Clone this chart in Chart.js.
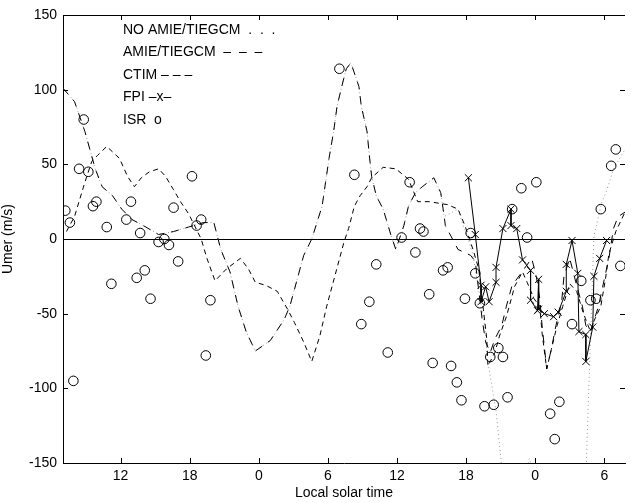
<!DOCTYPE html>
<html>
<head>
<meta charset="utf-8">
<script src="https://cdn.jsdelivr.net/npm/chart.js@4/dist/chart.umd.min.js"></script>
<style>
  html, body { margin: 0; padding: 0; background: #fff; }
  #wrap { width: 631px; height: 503px; }
</style>
</head>
<body>
<div id="wrap"><canvas id="c" width="631" height="503"></canvas></div>
<script>
// ---- data (hours are continuous local solar time; 24 = 0h of next day) ----
const xTickHours = [12, 18, 24, 30, 36, 42, 48, 54];
const yTicks = [-150, -100, -50, 0, 50, 100, 150];

const isrHours = [7.2,7.6,7.9,8.4,8.8,9.2,9.6,9.9,10.8,11.2,12.5,12.9,13.4,13.7,14.1,14.6,15.3,15.8,16.2,16.6,17.0,18.2,18.6,19.0,19.4,19.8,31.0,32.3,32.9,33.6,34.2,35.2,36.4,37.1,37.6,38.0,38.3,38.8,39.1,40.0,40.4,40.7,41.2,41.6,41.9,42.4,42.8,43.2,43.6,44.1,44.4,44.8,45.2,45.6,46.0,46.8,47.3,48.1,49.3,49.7,50.1,51.2,52.0,52.8,53.3,53.7,54.6,55.0,55.4];
const isrValues = [19,11,-95,47,80,45,22,25,8,-30,13,25,-26,4,-21,-40,-2,0,-4,21,-15,42,9,13,-78,-41,114,43,-57,-42,-17,-76,1,38,-9,7,5,-37,-83,-21,-19,-85,-96,-108,-40,4,-23,-43,-112,-79,-111,-73,-79,-106,20,34,1,38,-117,-134,-109,-57,-28,-41,-40,20,49,60,-18];

const fpiHours = [42.2,42.8,43.3,43.3,43.7,44.0,44.6,44.6,45.2,45.9,45.9,46.4,46.9,47.6,47.6,48.2,48.3,48.3,48.8,49.6,50.0,50.7,50.7,51.2,51.7,51.8,52.4,52.4,53.0,53.1,53.6,54.2];
const fpiValues = [41,3,-31,-42,-32,-42,-29,-19,7,20,9,7,-14,-21,-41,-48,-27,-47,-50,-52,-49,-35,-17,-1,-23,-62,-64,-82,-59,-25,-13,-1];

const ctimHours = [7.3,8.0,8.9,9.5,10.0,10.8,11.9,12.6,13.2,13.8,14.5,15.3,15.9,16.6,17.2,17.9,19.0,19.5,20.2,21.2,22.4,23.1,23.7,24.6,25.6,26.5,27.1,27.9,28.6,29.3,29.9,30.6,31.4,31.8,32.3,32.8,33.4,33.8,34.8,35.9,37.0,37.8,38.8,40.4,41.3,41.9,42.6,43.1,43.5,43.8,43.9,44.5,44.9,45.5,46.0,46.2,46.9,47.3,47.9,48.4,48.6,49.0,49.4,49.9,50.4,51.0,51.6,52.2,52.8,53.1,53.7,54.1,54.4,55.0,55.8];
const ctimValues = [5,15,38,52,56,62,54,42,35,41,45,47,42,33,25,17,0,-13,-28,-20,-13,-20,-29,-31,-35,-47,-56,-69,-82,-65,-45,-25,-2,7,22,29,35,41,48,47,40,25,25,23,20,9,-7,-20,-47,-67,-85,-76,-65,-52,-38,-32,-22,-29,-40,-45,-63,-87,-74,-58,-45,-30,-35,-50,-62,-55,-45,-27,-10,5,18];

const amieHours = [7.0,8.0,8.9,9.8,10.4,11.3,12.1,13.0,14.2,15.3,16.6,17.9,19.2,20.1,20.7,21.5,22.2,22.9,23.7,25.0,26.2,26.7,27.9,28.6,29.5,29.8,30.1,30.5,30.8,31.2,31.6,32.0,32.7,32.9,33.4,33.6,33.8,34.2,34.8,35.5,35.9,36.6,37.0,37.6,38.2,39.2,39.8,40.1,40.2,41.3,42.4,42.8,43.4,43.7,44.1,44.5,45.1,45.5,46.0,46.2,47.7,48.1,48.4,48.6,49.0,49.4,49.8,50.3,50.5,51.0,51.6,52.1,52.4,52.8,53.5,54.0,54.4,54.8,55.2,55.8];
const amieValues = [101,92,72,47,35,29,20,13,8,3,5,8,11,11,-7,-22,-45,-62,-75,-68,-54,-45,-11,0,22,38,54,72,89,102,114,118,102,89,72,56,42,29,20,2,-7,9,22,31,35,41,31,15,9,-7,-11,-15,-54,-69,-76,-67,-58,-45,-31,-29,-13,-25,-40,-58,-87,-74,-58,-42,-25,-13,-31,-45,-58,-62,-45,-27,-13,7,15,18];

const noAmieHours = [7.0,8.0,8.9,9.8,10.4,11.3,12.1,13.0,14.2,15.3,16.6,17.9,19.2,20.1,20.7,21.5,22.2,22.9,23.7,25.0,26.2,26.7,27.9,28.6,29.5,29.8,30.1,30.5,30.8,31.2,31.6,32.0,32.7,32.9,33.4,33.6,33.8,34.2,34.8,35.5,35.9,36.6,37.0,37.6,38.2,39.2,39.8,40.1,41.3,41.7,42.2,42.6,43.7,43.8,44.6,45.2,47.0,47.5,48.0,52.4,53.1,53.8,54.2,54.8,55.8];
const noAmieValues = [101,92,72,47,35,29,20,13,8,3,5,8,11,11,-7,-22,-45,-62,-75,-68,-54,-45,-11,0,22,38,54,72,89,102,114,118,102,89,72,56,42,29,20,2,-7,9,22,31,35,41,31,15,20,10,0,-11,-62,-78,-115,-160,-160,-147,-160,-160,2,25,32,47,60];

const legendLines = ["NO AMIE/TIEGCM  .  .  .", "AMIE/TIEGCM  \u2013  \u2013  \u2013", "CTIM \u2013 \u2013 \u2013", "FPI \u2013x\u2013", "ISR  o"];

// ---- build ----
const pts = (hs, vs) => hs.map((h, i) => ({ x: h, y: vs[i] }));
const FONT = "'Liberation Sans', Arial, Helvetica, sans-serif";

const framePlugin = {
  id: 'frame',
  beforeDatasetsDraw(chart) {
    const { ctx, chartArea: a, scales: { y } } = chart;
    ctx.save();
    ctx.strokeStyle = '#000';
    ctx.lineWidth = 1;
    const y0 = Math.round(y.getPixelForValue(0)) + 0.5;
    ctx.beginPath(); ctx.moveTo(a.left, y0); ctx.lineTo(a.right, y0); ctx.stroke();
    ctx.restore();
  },
  afterDraw(chart) {
    const { ctx, chartArea: a, scales: { x, y } } = chart;
    ctx.save();
    ctx.strokeStyle = '#000';
    ctx.lineWidth = 1;
    ctx.beginPath(); ctx.moveTo(a.left, a.top + 0.5); ctx.lineTo(a.right, a.top + 0.5); ctx.stroke();
    const L = 5;
    x.ticks.forEach(t => {
      const px = Math.round(x.getPixelForValue(t.value)) + 0.5;
      ctx.beginPath(); ctx.moveTo(px, a.bottom); ctx.lineTo(px, a.bottom - L); ctx.stroke();
      ctx.beginPath(); ctx.moveTo(px, a.top); ctx.lineTo(px, a.top + L); ctx.stroke();
    });
    y.ticks.forEach(t => {
      const py = Math.round(y.getPixelForValue(t.value)) + 0.5;
      ctx.beginPath(); ctx.moveTo(a.left, py); ctx.lineTo(a.left + L, py); ctx.stroke();
      ctx.beginPath(); ctx.moveTo(a.right, py); ctx.lineTo(a.right - L, py); ctx.stroke();
    });
    ctx.fillStyle = '#000';
    ctx.font = '14px ' + FONT;
    ctx.textBaseline = 'middle';
    ctx.textAlign = 'left';
    legendLines.forEach((s, i) => {
      ctx.fillText(s, a.left + 60, a.top + 15 + i * 22.5);
    });
    ctx.restore();
  }
};

new Chart(document.getElementById('c'), {
  type: 'line',
  data: {
    datasets: [
      { label: 'ISR', data: pts(isrHours, isrValues), showLine: false, pointStyle: 'circle', pointRadius: 4.8, pointBorderWidth: 1, borderColor: '#000', backgroundColor: 'rgba(0,0,0,0)', order: 1 },
      { label: 'FPI', data: pts(fpiHours, fpiValues), borderColor: '#000', borderWidth: 1, pointStyle: 'crossRot', pointRadius: 5, pointBorderWidth: 1, backgroundColor: '#000', tension: 0, order: 2 },
      { label: 'CTIM', data: pts(ctimHours, ctimValues), borderColor: '#000', borderWidth: 1, borderDash: [5, 4], pointRadius: 0, tension: 0, order: 3 },
      { label: 'AMIE/TIEGCM', data: pts(amieHours, amieValues), borderColor: '#000', borderWidth: 1, borderDash: [8, 7], pointRadius: 0, tension: 0, order: 4 },
      { label: 'NO AMIE/TIEGCM', data: pts(noAmieHours, noAmieValues), borderColor: '#999', borderWidth: 1, borderDash: [1, 3], pointRadius: 0, tension: 0, order: 5 }
    ]
  },
  options: {
    responsive: false,
    animation: false,
    devicePixelRatio: 1,
    layout: { padding: { top: 15, right: 0, left: 0, bottom: 0 } },
    plugins: { legend: { display: false }, tooltip: { enabled: false } },
    scales: {
      x: {
        type: 'linear', min: 7, max: 55.8,
        afterBuildTicks: s => { s.ticks = xTickHours.map(v => ({ value: v })); },
        afterFit: s => { s.height = 40; },
        grid: { display: false, drawTicks: false },
        border: { display: true, color: '#000', width: 1 },
        ticks: { autoSkip: false, maxRotation: 0, padding: 5, color: '#000', font: { family: FONT, size: 14 },
                 callback: v => String(v % 24) },
        title: { display: true, text: 'Local solar time', color: '#000', font: { family: FONT, size: 14 }, padding: { top: 0, bottom: 1 } }
      },
      y: {
        min: -150, max: 150,
        afterBuildTicks: s => { s.ticks = yTicks.map(v => ({ value: v })); },
        afterFit: s => { s.width = 63; },
        grid: { display: false, drawTicks: false },
        border: { display: true, color: '#000', width: 1 },
        ticks: { padding: 6, color: '#000', font: { family: FONT, size: 14 } },
        title: { display: true, text: 'Umer (m/s)', color: '#000', font: { family: FONT, size: 14 }, padding: { top: 0, bottom: 0 } }
      }
    }
  },
  plugins: [framePlugin]
});
</script>
</body>
</html>
